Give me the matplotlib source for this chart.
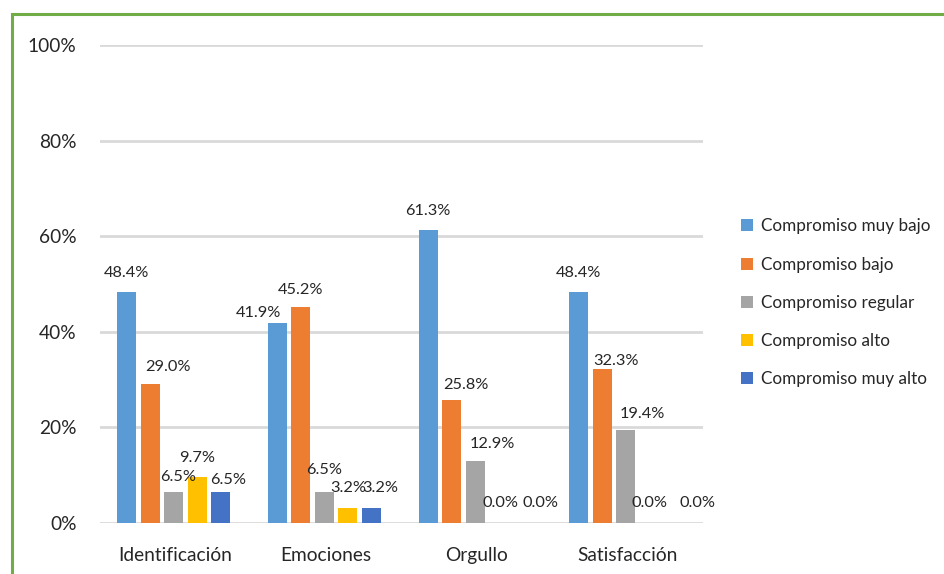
import matplotlib
matplotlib.use("Agg")
import matplotlib.pyplot as plt
from matplotlib.patches import Patch, Rectangle
import numpy as np

categories = ["Identificación", "Emociones", "Orgullo", "Satisfacción"]
series_names = ["Compromiso muy bajo", "Compromiso bajo", "Compromiso regular",
                "Compromiso alto", "Compromiso muy alto"]
muy_bajo = [48.4, 41.9, 61.3, 48.4]
bajo = [29.0, 45.2, 25.8, 32.3]
regular = [6.5, 6.5, 12.9, 19.4]
alto = [9.7, 3.2, 0.0, 0.0]
muy_alto = [6.5, 3.2, 0.0, 0.0]
yticks = [0, 20, 40, 60, 80, 100]
ytick_labels = ["0%", "20%", "40%", "60%", "80%", "100%"]

series = [muy_bajo, bajo, regular, alto, muy_alto]
colors = ["#5B9BD5", "#ED7D31", "#A5A5A5", "#FFC000", "#4472C4"]

# label offsets in pixels (dx, dy) per series per category
label_offsets = [
    [(0, 19), (-19, 10), (0, 19), (0, 19)],
    [(18, 17), (0, 17), (14, 15), (14, 8)],
    [(5, 15), (0, 22), (17, 17), (17, 16)],
    [(0, 19), (0, 20), (2, 20), (0, 20)],
    [(8, 12), (9, 20), (18, 20), (25, 20)],
]

plt.rcParams['font.family'] = ['Lato', 'DejaVu Sans']
fig = plt.figure(figsize=(9.45, 5.74), dpi=100)
ax = fig.add_axes([100/945, 51/574, 603/945, 478/574])

x = np.arange(len(categories))
pitch = 0.156
width = 0.126
for i, (vals, col) in enumerate(zip(series, colors)):
    xs = x + (i - 2) * pitch - 0.012
    bars = ax.bar(xs, vals, width=width, color=col, label=series_names[i], zorder=3)
    for j, (b, v) in enumerate(zip(bars, vals)):
        dx, dy = label_offsets[i][j]
        ax.annotate(f"{v:.1f}%", (b.get_x() + b.get_width()/2, v),
                    xytext=(dx, dy), textcoords="offset pixels",
                    ha="center", va="center", fontsize=11.8, color="#262626", zorder=4)

ax.set_xlim(-0.5, 3.5)
ax.set_ylim(0, 100)
ax.set_yticks(yticks)
ax.set_yticklabels(ytick_labels)
ax.set_xticks(x)
ax.set_xticklabels(categories)
ax.tick_params(axis="y", length=0, pad=17, labelsize=13.8, labelcolor="#262626")
ax.tick_params(axis="x", length=0, pad=17, labelsize=13.8, labelcolor="#262626")
ax.grid(axis="y", color="#D9D9D9", linewidth=2, zorder=0)
ax.set_axisbelow(True)
for s in ax.spines.values():
    s.set_visible(False)

handles = [Patch(facecolor=c, edgecolor="none") for c in colors]
fig.legend(handles, series_names, loc="upper left", bbox_to_anchor=(726/945, 1 - 203/574),
           frameon=False, fontsize=12.3, handlelength=0.7, handleheight=0.7,
           handletextpad=0.45, labelspacing=1.3, labelcolor="#262626")

# green border
fig.add_artist(Rectangle((12/945, -0.05), 1.2, 1 - 14/574 + 0.05, transform=fig.transFigure,
                         fill=False, edgecolor="#70AD47", linewidth=2.2))

fig.savefig("out.png", dpi=100)
